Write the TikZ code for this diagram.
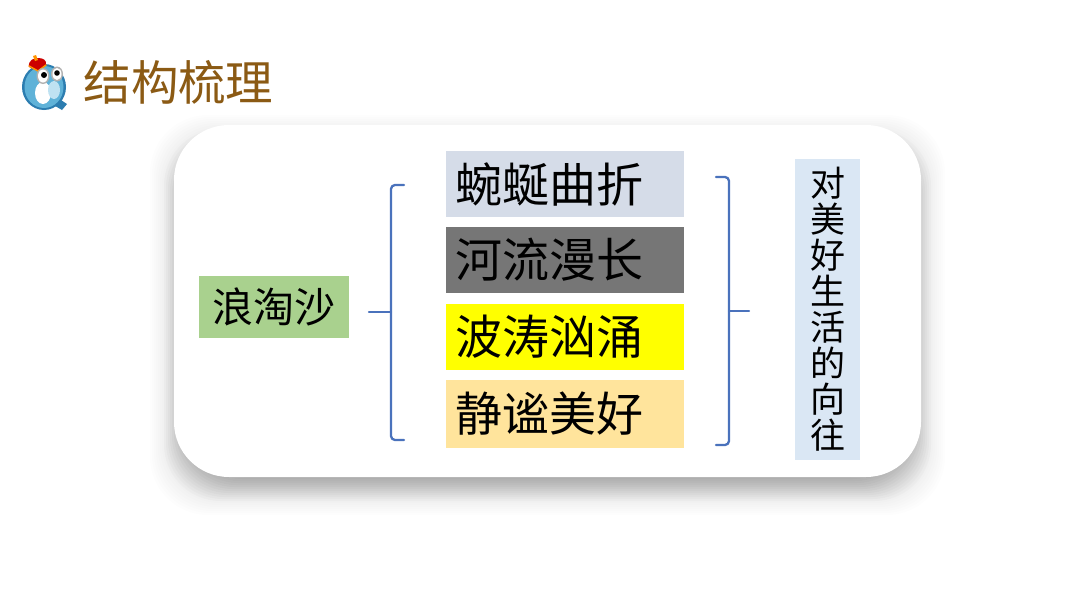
\documentclass[tikz,border=0pt]{standalone}
\usepackage{fontspec}
\setmainfont{Noto Sans CJK SC}
\usetikzlibrary{positioning}
\definecolor{titlebrown}{HTML}{8B5A14}
\definecolor{bracketblue}{HTML}{4A72BC}
\definecolor{boxgreen}{HTML}{A9D18E}
\definecolor{boxslate}{HTML}{D5DCE8}
\definecolor{boxgray}{HTML}{767676}
\definecolor{boxyellow}{HTML}{FFFF00}
\definecolor{boxsand}{HTML}{FFE49C}
\definecolor{boxsky}{HTML}{DAE7F4}
\definecolor{logoblue}{HTML}{5FB2D8}
\definecolor{logodark}{HTML}{2C7DB0}
\definecolor{logopale}{HTML}{BFE2F2}
\tikzset{
    linebox/.style={minimum height=66pt, inner ysep=0pt, inner xsep=9pt, text width=220pt, align=left,
        font=\fontsize{47}{47}\selectfont},
    bracket/.style={draw=bracketblue, line width=2.3pt, rounded corners=4pt},
    stem/.style={draw=bracketblue, line width=2.3pt}
}

\begin{document}
\begin{tikzpicture}[x=1pt, y=-1pt, line cap=round, line join=round]
    \useasboundingbox (0, 0) rectangle (1080, 608);
    \fill[white] (0, 0) rectangle (1080, 608);

    % Soft shadow of the card
    \foreach \grow in {24, 22, ..., -14} {
        \fill[black, opacity=0.006, rounded corners=58pt]
            (174-\grow, 139-\grow) rectangle (921+\grow, 491+\grow);
    }
    \foreach \grow in {10, 8, ..., -14} {
        \fill[black, opacity=0.014, rounded corners=56pt]
            (174-\grow, 139-\grow) rectangle (921+\grow, 491+\grow);
    }
    % Card
    \fill[white, rounded corners=55pt] (174, 125) rectangle (921, 477);

    % Logo
    \fill[logodark] (58, 98) -- (67, 104) -- (62, 110) -- (50, 103) -- cycle;
    \fill[logodark] (44, 87) ellipse (22 and 23);
    \fill[logoblue] (44, 87) ellipse (19.5 and 21);
    \fill[white] (43, 93) ellipse (8 and 11);
    \fill[logopale] (54, 90) ellipse (6 and 9);
    \fill[red!80!black] (29, 67) .. controls (28, 60) and (34, 58) .. (38, 58)
        .. controls (43, 58) and (47, 60) .. (46, 65) -- (38, 71) -- cycle;
    \fill[orange!85!yellow] (33, 56) -- (36, 55) -- (38, 60) -- (35, 61) -- cycle;
    \draw[orange!85!yellow, line width=1.5pt] (29, 66) -- (38, 71) -- (46, 65);
    \fill[gray!60] (43, 76) ellipse (6.5 and 8);
    \fill[gray!60] (57, 74) ellipse (6 and 7.5);
    \fill[white] (43, 76) ellipse (5 and 6.5);
    \fill[white] (57, 74) ellipse (4.5 and 6);
    \fill[black] (44, 75) circle (3);
    \fill[black] (57, 73) circle (2.8);

    % Title
    \node[text=titlebrown, font=\fontsize{47.5}{47.5}\selectfont, inner sep=0pt] (title) at (178.5, 82) {结构梳理};

    % Boxes
    \node[fill=boxgreen, minimum width=150pt, minimum height=62pt, inner sep=0pt, font=\fontsize{41}{41}\selectfont] (topic) at (274, 307) {浪淘沙};
    \node[linebox, fill=boxslate] (line1) at (565, 184) {蜿蜒曲折};
    \node[linebox, fill=boxgray] (line2) at (565, 260) {河流漫长};
    \node[linebox, fill=boxyellow] (line3) at (565, 337) {波涛汹涌};
    \node[linebox, fill=boxsand, minimum height=68pt] (line4) at (565, 414) {静谧美好};
    \node[fill=boxsky, minimum width=65pt, minimum height=301pt, inner sep=0pt, align=center,
        font=\fontsize{35}{36}\selectfont] (theme) at (827.5, 309.5) {对\\美\\好\\生\\活\\的\\向\\往};

    % Left bracket
    \coordinate (leftstem) at (369, 312);
    \coordinate (leftjoin) at (391, 312);
    \draw[bracket] (404, 185) -- (391, 185) -- (391, 440) -- (404, 440);
    \draw[stem] (leftstem) -- (leftjoin);

    % Right bracket
    \coordinate (rightstem) at (749, 311);
    \coordinate (rightjoin) at (729, 311);
    \draw[bracket] (716, 177) -- (729, 177) -- (729, 445) -- (716, 445);
    \draw[stem] (rightjoin) -- (rightstem);
\end{tikzpicture}
\end{document}
